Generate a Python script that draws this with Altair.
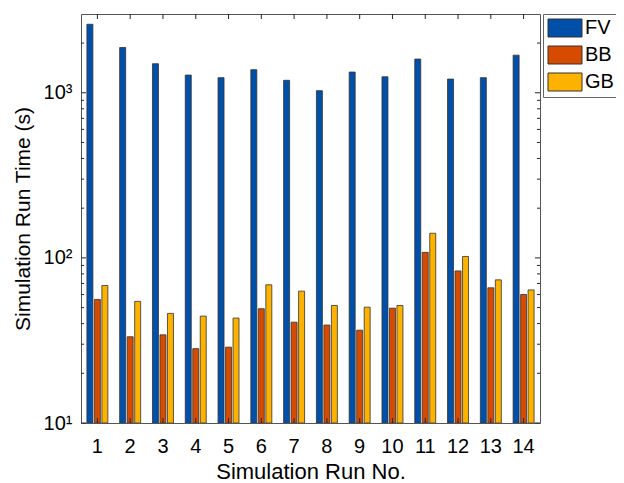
import altair as alt
import pandas as pd

runs = list(range(1, 15))
series = ["FV", "BB", "GB"]
fv = [2600, 1880, 1500, 1280, 1235, 1380, 1190, 1030, 1335, 1250, 1600, 1210, 1235, 1690]
bb = [56, 33.3, 34.2, 28.2, 28.8, 49.2, 40.8, 39.2, 36.5, 49.6, 108, 83.4, 65.9, 60.0]
gb = [68, 54.5, 46.1, 44.4, 43.2, 68.7, 62.9, 51.5, 50.3, 51.5, 141, 102, 73.6, 64]
colors = ["#0050AA", "#D64B00", "#FDB200"]

major_ticks = [10, 100, 1000]
minor_ticks = [20, 30, 40, 50, 60, 70, 80, 90, 200, 300, 400, 500, 600, 700, 800, 900, 2000]
y_min, y_max = 10, 3000

rows = []
for i, r in enumerate(runs):
    for s, vals in zip(series, [fv, bb, gb]):
        rows.append({"run": r, "series": s, "time": vals[i], "base": y_min})
df = pd.DataFrame(rows)

W, H = 459, 409
FONT = "Liberation Sans"
TC = "#262626"

xscale = alt.Scale(domain=runs, paddingInner=0.36, paddingOuter=0.18)
yscale = alt.Scale(type="log", domain=[y_min, y_max], nice=False)

x_axis = alt.Axis(labelAngle=0, ticks=False, domain=False, grid=False, labelFontSize=20,
                  labelPadding=13, labelColor="#000000", title="Simulation Run No.",
                  titleFontSize=22, titleFontWeight="normal", titleColor="#000000",
                  titleBaseline="alphabetic", titleY=55, titleX=W / 2)
y_axis = alt.Axis(values=major_ticks, ticks=False, domain=False, grid=False,
                  labelExpr="datum.value == 10 ? '10¹' : datum.value == 100 ? '10²' : '10³'",
                  labelFontSize=20, labelPadding=9, labelColor="#000000",
                  title="Simulation Run Time (s)", titleFontSize=21,
                  titleFontWeight="normal", titleColor="#000000",
                  titleBaseline="alphabetic", titleAngle=-90, titleX=-52, titleY=H / 2)

X = alt.X("run:O", scale=xscale, axis=x_axis)
Y = alt.Y("time:Q", scale=yscale, axis=y_axis)

bars = alt.Chart(df).mark_bar(stroke="#333333", strokeWidth=0.8, clip=True).encode(
    x=X,
    xOffset=alt.XOffset("series:N", sort=series,
                        scale=alt.Scale(domain=series, paddingInner=0.2, paddingOuter=0)),
    y=Y,
    y2=alt.Y2("base:Q"),
    color=alt.Color("series:N", sort=series,
                    scale=alt.Scale(domain=series, range=colors),
                    legend=alt.Legend(title=None, orient="none", legendX=462, legendY=0,
                                      symbolType="M-1,-1H2.778V1H-1Z", symbolSize=324,
                                      symbolStrokeColor="#333333", symbolStrokeWidth=1,
                                      symbolOpacity=1, labelFontSize=20, labelColor="#000000",
                                      labelOffset=18, padding=4, rowPadding=5,
                                      strokeColor="#666666", fillColor="#ffffff")),
)

maj_df = pd.DataFrame({"time": major_ticks})
min_df = pd.DataFrame({"time": minor_ticks})
run_df = pd.DataFrame({"run": runs})

def ytick(data, x0, x1):
    return alt.Chart(data).mark_rule(color=TC, strokeWidth=1).encode(
        y=Y, x=alt.value(x0), x2=alt.value(x1))

def xtick(y0, y1):
    return alt.Chart(run_df).mark_rule(color=TC, strokeWidth=1).encode(
        x=X, y=alt.value(y0), y2=alt.value(y1))

chart = alt.layer(
    bars,
    ytick(maj_df, 0, 5), ytick(min_df, 0, 3),
    ytick(maj_df, W, W - 5), ytick(min_df, W, W - 3),
    xtick(0, 5), xtick(H, H - 5),
).properties(
    width=W, height=H, autosize="none",
    padding={"left": 73, "top": 6, "right": 76, "bottom": 60},
).configure(font=FONT).configure_view(stroke="#555555", strokeWidth=1)

chart.save("out.html", embed_options={"renderer": "svg", "actions": False})
